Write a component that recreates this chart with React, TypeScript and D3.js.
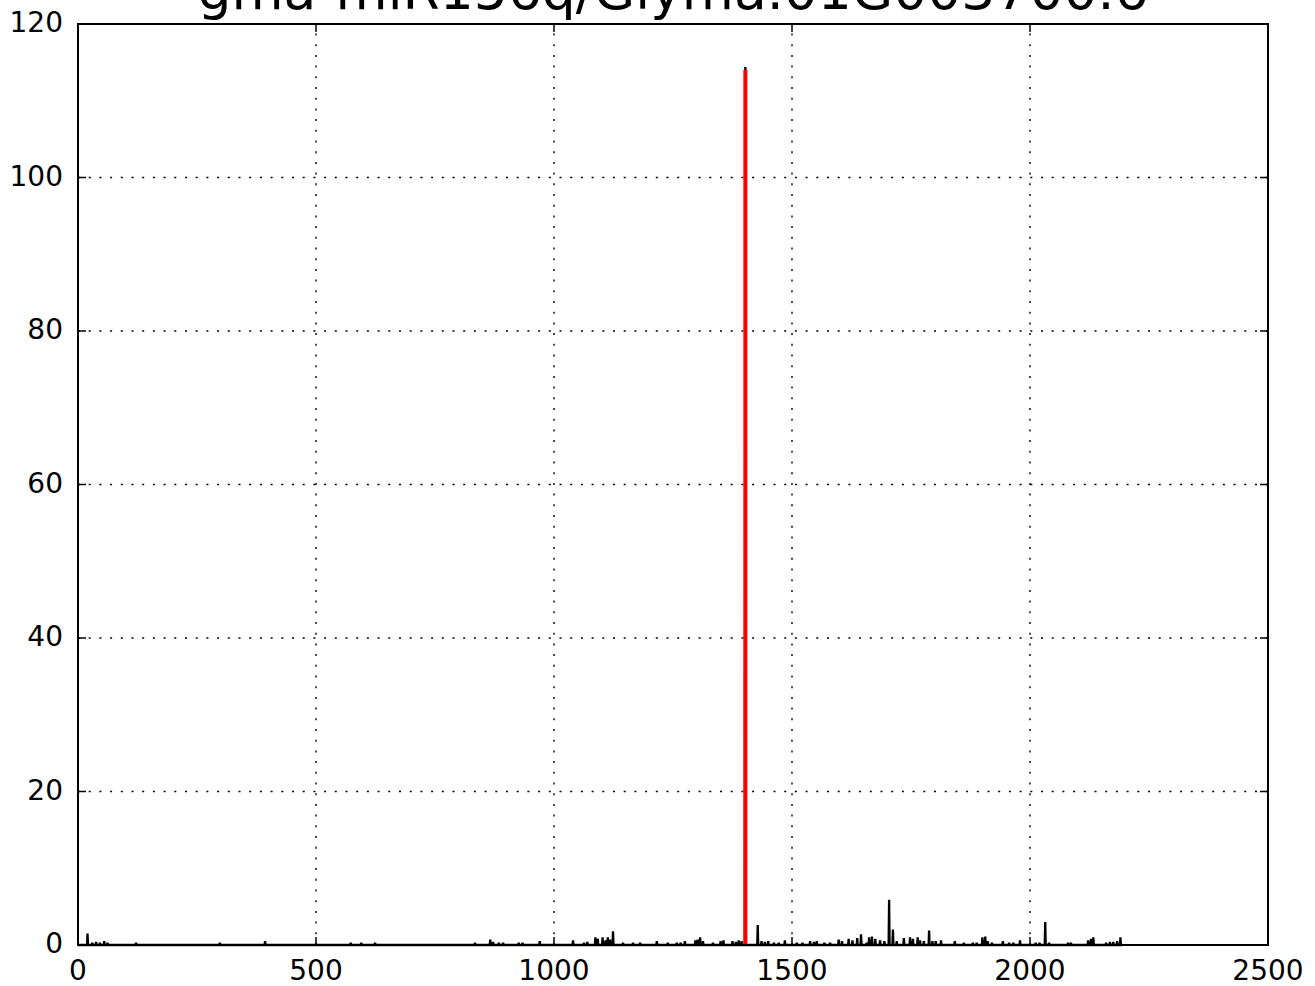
import React from 'react';
import * as d3 from 'd3';

const title = 'gma-miR156q/Glyma.01G003700.6';

// degradome read positions and their signal
const peakPos = [
  20, 30, 38, 46, 55, 62, 122, 298, 393, 573, 595, 624, 834, 866, 872, 884, 893, 926, 934, 970,
  1040, 1063, 1070, 1087, 1092, 1102, 1108, 1113, 1118, 1124, 1145, 1166, 1181, 1216, 1239,
  1258, 1266, 1275, 1297, 1302, 1307, 1313, 1334, 1350, 1356, 1375, 1382, 1388, 1394, 1402,
  1428, 1436, 1443, 1450, 1462, 1472, 1485, 1510, 1522, 1538, 1546, 1552, 1568, 1580, 1598,
  1605, 1619, 1627, 1637, 1645, 1657, 1662, 1668, 1675, 1685, 1694, 1704, 1712, 1720, 1735,
  1748, 1754, 1764, 1769, 1777, 1788, 1795, 1802, 1813, 1842, 1861, 1880, 1888, 1900, 1906,
  1911, 1920, 1943, 1956, 1965, 1979, 2012, 2020, 2032, 2040, 2080, 2086, 2122, 2128, 2133,
  2160, 2168, 2175, 2183, 2190,
];
const peakVal = [
  1.5, 0.3, 0.4, 0.3, 0.5, 0.3, 0.3, 0.3, 0.5, 0.3, 0.3, 0.3, 0.3, 0.7, 0.4, 0.3, 0.3, 0.3, 0.3, 0.5,
  0.6, 0.3, 0.4, 1.0, 0.8, 1.0, 0.6, 1.0, 0.7, 1.8, 0.3, 0.3, 0.3, 0.5, 0.3,
  0.3, 0.3, 0.5, 0.6, 0.7, 1.0, 0.5, 0.3, 0.5, 0.6, 0.5, 0.4, 0.6, 0.5, 114.4,
  2.6, 0.5, 0.4, 0.5, 0.3, 0.3, 0.6, 0.3, 0.3, 0.5, 0.4, 0.5, 0.3, 0.3, 0.7,
  0.5, 0.8, 0.6, 0.9, 1.4, 0.3, 1.0, 1.1, 0.8, 0.6, 0.5, 5.9, 2.0, 0.5, 0.9,
  1.0, 0.8, 1.0, 0.6, 0.5, 1.9, 0.5, 0.5, 0.6, 0.5, 0.3, 0.3, 0.3, 1.0, 1.1,
  0.5, 0.3, 0.5, 0.3, 0.3, 0.6, 0.3, 0.3, 3.0, 0.3, 0.3, 0.3, 0.6, 0.8, 1.0,
  0.3, 0.4, 0.4, 0.5, 1.0,
];
const transcriptEnd = 2193;

// predicted cleavage site
const sitePos = 1402;
const siteVal = 114;

const xTicks = [0, 500, 1000, 1500, 2000, 2500];
const yTicks = [0, 20, 40, 60, 80, 100, 120];

const W = 1315;
const H = 986;
const margin = { top: 24, right: 47, bottom: 41, left: 78 };

export default function App() {
  const x = d3.scaleLinear().domain([0, 2500]).range([margin.left, W - margin.right]);
  const y = d3.scaleLinear().domain([0, 120]).range([H - margin.bottom, margin.top]);

  const pts: [number, number][] = [[0, 0]];
  peakPos.forEach((p, i) => {
    pts.push([p - 1, 0], [p, peakVal[i]], [p + 1, 0]);
  });
  pts.push([transcriptEnd, 0]);
  const line = d3.line<[number, number]>().x(d => x(d[0])).y(d => y(d[1]));

  const font = 'DejaVu Sans, sans-serif';
  const x0 = x(0), x1 = x(2500), y0 = y(0), y1 = y(120);

  return (
    <div style={{ position: 'absolute', left: 0, top: 0 }}>
      <svg width={W} height={H} style={{ display: 'block', background: '#fff' }}>
        <text x={(x0 + x1) / 2} y={9} textAnchor="middle" fontFamily={font} fontSize={53.5}>{title}</text>

        {xTicks.slice(1, -1).map(t => (
          <line key={'gx' + t} x1={x(t)} x2={x(t)} y1={y0} y2={y1}
            stroke="#000" strokeWidth={1.4} strokeDasharray="2 8.7" />
        ))}
        {yTicks.slice(1, -1).map(t => (
          <line key={'gy' + t} x1={x0} x2={x1} y1={y(t)} y2={y(t)}
            stroke="#000" strokeWidth={1.4} strokeDasharray="2 8.7" />
        ))}

        <path d={line(pts) || ''} fill="none" stroke="#000" strokeWidth={2.3} strokeLinejoin="miter" />
        <line x1={x(sitePos)} x2={x(sitePos)} y1={y(0)} y2={y(siteVal)} stroke="#ff0000" strokeWidth={4} />

        {xTicks.map(t => (
          <g key={'tx' + t}>
            <line x1={x(t)} x2={x(t)} y1={y0} y2={y0 - 8} stroke="#000" strokeWidth={1.5} />
            <line x1={x(t)} x2={x(t)} y1={y1} y2={y1 + 8} stroke="#000" strokeWidth={1.5} />
            <text x={x(t)} y={y0 + 35} textAnchor="middle" fontFamily={font} fontSize={28}>{t}</text>
          </g>
        ))}
        {yTicks.map(t => (
          <g key={'ty' + t}>
            <line x1={x0} x2={x0 + 8} y1={y(t)} y2={y(t)} stroke="#000" strokeWidth={1.5} />
            <line x1={x1} x2={x1 - 8} y1={y(t)} y2={y(t)} stroke="#000" strokeWidth={1.5} />
            <text x={x0 - 15} y={y(t) + 8} textAnchor="end" fontFamily={font} fontSize={28}>{t}</text>
          </g>
        ))}

        <rect x={x0} y={y1} width={x1 - x0} height={y0 - y1} fill="none" stroke="#000" strokeWidth={2} />
      </svg>
    </div>
  );
}
